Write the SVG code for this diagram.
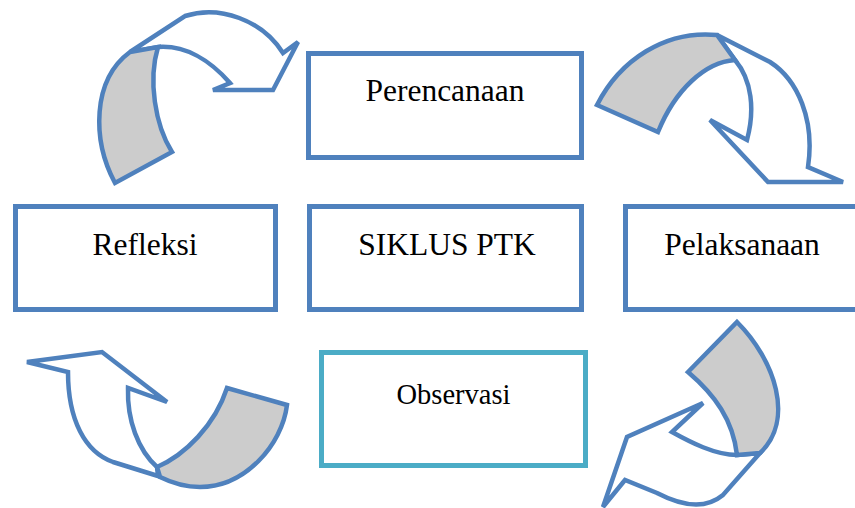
<svg xmlns="http://www.w3.org/2000/svg" width="855" height="508" viewBox="0 0 855 508">
<style>
.box{fill:#ffffff;stroke:#4f81bd;stroke-width:5}
.obs{fill:#ffffff;stroke:#4bacc6;stroke-width:5}
.lbl{font-family:"Liberation Serif","Times New Roman",serif;font-size:31.5px;fill:#000000;text-anchor:middle}
.arw{fill:#ffffff;stroke:#4f81bd;stroke-width:4.5;stroke-linejoin:miter}
.shd{fill:#cccccc;stroke:#4f81bd;stroke-width:4.5;stroke-linejoin:miter}
</style>
<rect width="855" height="508" fill="#ffffff"/>
<g id="perencanaan">
<rect class="box" x="308.5" y="53.5" width="273" height="104"/>
<text class="lbl" x="445" y="101">Perencanaan</text>
</g>
<g id="refleksi">
<rect class="box" x="15.5" y="206.5" width="260" height="103"/>
<text class="lbl" x="145" y="255">Refleksi</text>
</g>
<g id="siklus">
<rect class="box" x="309.5" y="206.5" width="272" height="103"/>
<text class="lbl" x="447" y="255">SIKLUS PTK</text>
</g>
<g id="pelaksanaan">
<rect class="box" x="625.5" y="206.5" width="240" height="103"/>
<text class="lbl" x="742" y="255">Pelaksanaan</text>
</g>
<g id="observasi">
<rect class="obs" x="321.5" y="352.5" width="264" height="113"/>
<text class="lbl" x="453.5" y="404" style="font-size:28.5px">Observasi</text>
</g>
<g id="connectors">
<g id="arrow-top-left">
<path class="arw" d="M130,52 L185,16 C220,5 262,20 283,53 L298,42 L273,90 L213,90 L230,83 C210,60 185,45 158,47 Z"/>
<path class="shd" d="M115,183 C92,140 92,80 130,52 L158,47 C148,80 155,125 172,152 Z"/>
</g>
<g id="arrow-top-right">
<path class="arw" d="M717,35 L770,62 C798,80 815,120 808,167 L843,182 L768,182 L710,120 L747,140 C755,110 752,80 735,60 Z"/>
<path class="shd" d="M597,105 C620,60 665,30 717,35 L735,60 C705,62 675,90 658,132 Z"/>
</g>
<g id="arrow-bottom-left">
<path class="arw" d="M158,476 L113,462 C85,452 68,420 68,372 L27,362 L102,352 L167,402 L128,388 C127,420 138,450 157,467 Z"/>
<path class="shd" d="M227,388 L287,405 C282,445 245,487 200,487 C185,487 170,482 160,477 L157,467 C185,455 215,425 227,388 Z"/>
</g>
<g id="arrow-bottom-right">
<path class="arw" d="M760,453 L723,495 C705,510 680,505 657,493 L625,480 L603,507 L627,437 L703,403 L672,432 C690,442 715,455 737,455 Z"/>
<path class="shd" d="M737,322 C775,360 795,420 760,453 L737,455 C733,420 715,395 688,372 Z"/>
</g>
</g>
</svg>
